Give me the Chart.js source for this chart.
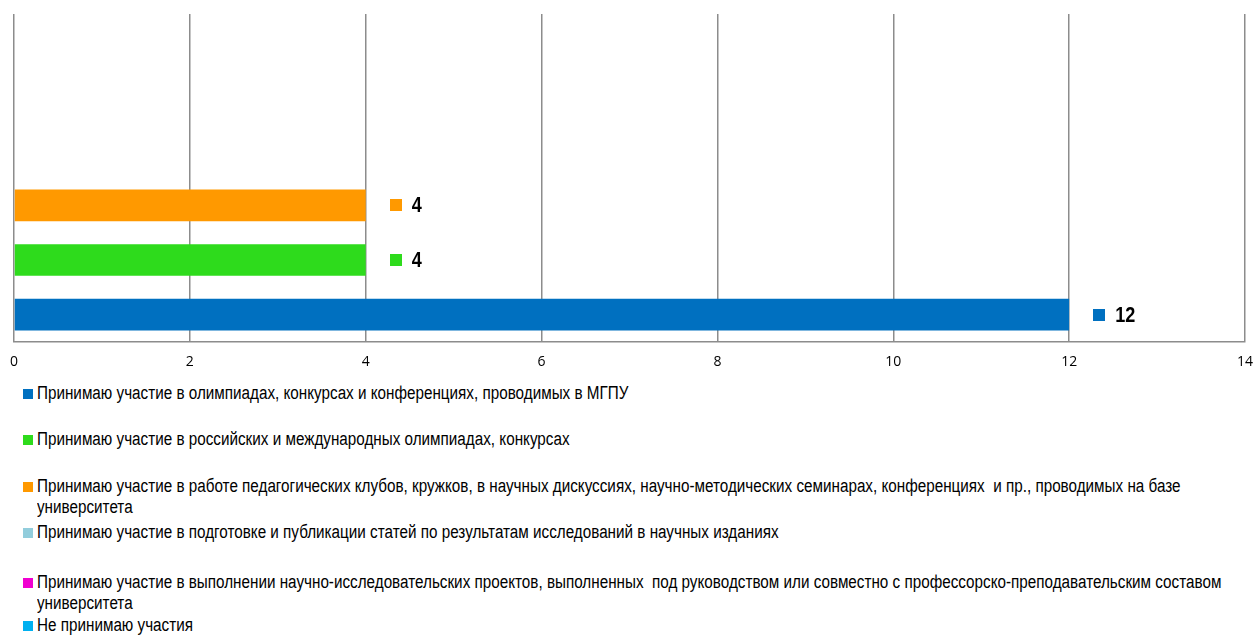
<!DOCTYPE html>
<html lang="ru">
<head>
<meta charset="utf-8">
<title>Участие в научной деятельности</title>
<script src="https://cdn.jsdelivr.net/npm/chart.js@4.4.1/dist/chart.umd.min.js"></script>
<style>
    html, body { margin: 0; padding: 0; background: #fff; }
    #page { position: relative; width: 1254px; height: 635px; overflow: hidden; }
    #chart { position: absolute; left: 0; top: 0; }
    .legend-item {
        position: absolute;
        left: 37px;
        font-family: "Liberation Sans Narrow", "Arial Narrow", "Liberation Sans", sans-serif;
        font-size: 18px;
        line-height: 21px;
        color: #000;
        white-space: pre;
    }
    .legend-item .swatch {
        position: absolute;
        left: -14px;
        top: 6px;
        width: 10px;
        height: 10px;
    }
    /* no narrow face installed, so squeeze the regular one */
    .legend-item .text {
        display: inline-block;
        transform: scaleX(0.847);
        transform-origin: 0 0;
    }
</style>
</head>
<body>
<div id="page">
    <canvas id="chart" width="1254" height="375"></canvas>
    <div id="legend"></div>
</div>
<script>
// Series, listed the way the legend reads (top to bottom)
const seriesNames = [
    'Принимаю участие в олимпиадах, конкурсах и конференциях, проводимых в МГПУ',
    'Принимаю участие в российских и международных олимпиадах, конкурсах',
    'Принимаю участие в работе педагогических клубов, кружков, в научных дискуссиях, научно-методических семинарах, конференциях  и пр., проводимых на базе\nуниверситета',
    'Принимаю участие в подготовке и публикации статей по результатам исследований в научных изданиях',
    'Принимаю участие в выполнении научно-исследовательских проектов, выполненных  под руководством или совместно с профессорско-преподавательским составом\nуниверситета',
    'Не принимаю участия'
];
const seriesValues = [12, 4, 4, null, null, null];
const seriesColors = ['#0070C0', '#2EDB1C', '#FF9900', '#92CDDC', '#F000D0', '#00B0F0'];
const categories = [''];
const xTicks = [0, 2, 4, 6, 8, 10, 12, 14];

// vertical centre of each legend row
const legendRowY = [393, 439, 486, 532, 582, 625];

/**
 * Draws a small coloured square and the bold value to the right of each bar.
 */
const valueLabels = {
    id: 'valueLabels',
    afterDatasetsDraw(chart) {
        const ctx = chart.ctx;
        chart.data.datasets.forEach((ds, i) => {
            const meta = chart.getDatasetMeta(i);
            meta.data.forEach((bar, j) => {
                const v = ds.data[j];
                if (v === null || v === undefined) return;
                ctx.save();
                ctx.fillStyle = ds.backgroundColor;
                ctx.fillRect(Math.round(bar.x + 24), Math.round(bar.y - 6), 12, 12);
                // condensed bold figures
                ctx.translate(bar.x + 46, bar.y + 1);
                ctx.scale(0.82, 1);
                ctx.font = 'bold 22px "Liberation Sans Narrow", "Arial Narrow", "Liberation Sans", sans-serif';
                ctx.textBaseline = 'middle';
                ctx.fillStyle = '#000';
                ctx.fillText(String(v), 0, 0);
                ctx.restore();
            });
        });
    }
};

/**
 * Builds the chart. Datasets go in reverse so the first series sits at the bottom.
 */
function renderChart() {
    const datasets = seriesNames.map((name, i) => ({
        label: name,
        data: [seriesValues[i]],
        backgroundColor: seriesColors[i],
        borderWidth: 0,
        categoryPercentage: 1,
        barPercentage: 0.58
    })).reverse();

    new Chart(document.getElementById('chart'), {
        type: 'bar',
        data: { labels: categories, datasets: datasets },
        options: {
            indexAxis: 'y',
            responsive: false,
            animation: false,
            layout: { padding: { left: 14, right: 9, top: 14, bottom: 0 } },
            plugins: {
                legend: { display: false },
                tooltip: { enabled: false }
            },
            scales: {
                x: {
                    min: xTicks[0],
                    max: xTicks[xTicks.length - 1],
                    afterBuildTicks(scale) {
                        scale.ticks = xTicks.map(v => ({ value: v }));
                    },
                    afterFit(scale) {
                        scale.height = 33;
                        scale.paddingLeft = 0;
                        scale.paddingRight = 0;
                    },
                    grid: {
                        color: '#8C8C8C',
                        lineWidth: 1.5,
                        drawTicks: false
                    },
                    border: { color: '#8C8C8C', width: 1.5 },
                    ticks: {
                        padding: 12,
                        color: '#000',
                        font: { family: '"Open Sans", "Noto Sans", sans-serif', size: 14 }
                    }
                },
                y: {
                    display: false
                }
            }
        },
        plugins: [valueLabels]
    });
}

/**
 * Legend is plain HTML so the long names can wrap onto a second line.
 */
function renderLegend() {
    const holder = document.getElementById('legend');
    seriesNames.forEach((name, i) => {
        const item = document.createElement('div');
        item.className = 'legend-item';
        item.style.top = (legendRowY[i] - 10.5) + 'px';
        const sw = document.createElement('span');
        sw.className = 'swatch';
        sw.style.background = seriesColors[i];
        item.appendChild(sw);
        const txt = document.createElement('span');
        txt.className = 'text';
        txt.textContent = name;
        item.appendChild(txt);
        holder.appendChild(item);
    });
}

document.addEventListener('DOMContentLoaded', () => {
    renderChart();
    renderLegend();
});
</script>
</body>
</html>
